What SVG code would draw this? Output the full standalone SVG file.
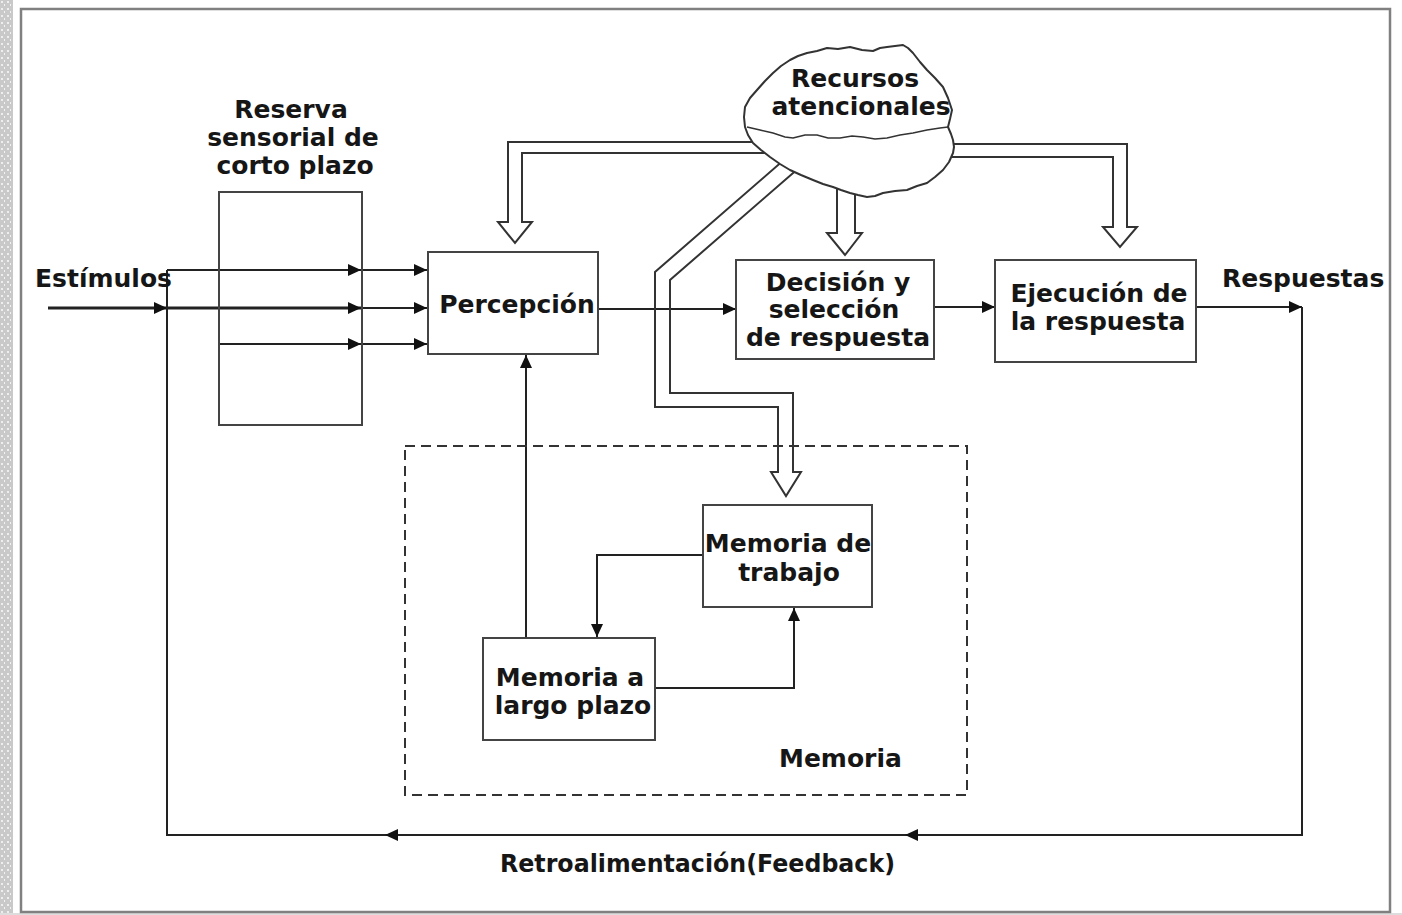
<svg xmlns="http://www.w3.org/2000/svg" width="1402" height="915" viewBox="0 0 1402 915">
<style>
.t{font-family:"DejaVu Sans","Liberation Sans",sans-serif;font-weight:bold;font-size:25px;fill:#161616}
.m{text-anchor:middle}
.box{fill:#fff;stroke:#444;stroke-width:2}
.ln{fill:none;stroke:#222;stroke-width:2}
.hol{fill:#fff;stroke:#333;stroke-width:2;stroke-linejoin:miter}
</style>
<defs>
<marker id="ah" markerUnits="userSpaceOnUse" markerWidth="14" markerHeight="12" refX="13" refY="6" orient="auto">
<path d="M0,0 L13,6 L0,12 z" fill="#111"/>
</marker>
<pattern id="noise" width="6" height="7" patternUnits="userSpaceOnUse">
<rect width="6" height="7" fill="#c9c9c9"/>
<rect x="1" y="1" width="2" height="2" fill="#eee"/>
<rect x="4" y="4" width="1" height="2" fill="#f2f2f2"/>
</pattern>
</defs>
<rect width="1402" height="915" fill="#fff"/>
<rect x="0" y="0" width="13" height="915" fill="url(#noise)"/>
<rect x="0" y="913" width="1402" height="2" fill="#ddd"/>
<rect x="21" y="9" width="1369" height="903" fill="none" stroke="#808080" stroke-width="2.5"/>

<g id="connectors">
<line x1="48" y1="308" x2="167" y2="308" stroke="#222" stroke-width="3" marker-end="url(#ah)"/>
<line x1="167" y1="308" x2="361" y2="308" stroke="#222" stroke-width="3" marker-end="url(#ah)"/>
<line x1="361" y1="308" x2="427" y2="308" class="ln" marker-end="url(#ah)"/>
<line x1="167" y1="270" x2="361" y2="270" class="ln" marker-end="url(#ah)"/>
<line x1="361" y1="270" x2="427" y2="270" class="ln" marker-end="url(#ah)"/>
<line x1="219" y1="344" x2="361" y2="344" class="ln" marker-end="url(#ah)"/>
<line x1="361" y1="344" x2="427" y2="344" class="ln" marker-end="url(#ah)"/>
<line x1="598" y1="309" x2="736" y2="309" class="ln" marker-end="url(#ah)"/>
<line x1="934" y1="307" x2="995" y2="307" class="ln" marker-end="url(#ah)"/>
<line x1="1196" y1="307" x2="1302" y2="307" class="ln" marker-end="url(#ah)"/>
<path d="M1302,307 L1302,835 L905,835" class="ln" marker-end="url(#ah)"/>
<line x1="905" y1="835" x2="385" y2="835" class="ln" marker-end="url(#ah)"/>
<path d="M385,835 L167,835 L167,270" class="ln"/>
<line x1="526" y1="638" x2="526" y2="355" class="ln" marker-end="url(#ah)"/>
<path d="M703,555 L597,555 L597,637" class="ln" marker-end="url(#ah)"/>
<path d="M655,688 L794,688 L794,608" class="ln" marker-end="url(#ah)"/>
<path d="M790,142 L508,142 L508,222 L498,222 L515,243 L532,222 L522,222 L522,153 L790,153" class="hol"/>
<path d="M910,144 L1127,144 L1127,227 L1137,227 L1120,247 L1103,227 L1113,227 L1113,157 L910,157" class="hol"/>
<path d="M837,185 L837,233 L827,233 L845,255 L862,233 L855,233 L855,185" class="hol"/>
<path d="M785,159 L655,272 L655,407 L778,407 L778,472 L771,472 L786,496 L801,472 L793,472 L793,393 L670,393 L670,280 L800,167" fill="none" stroke="#333" stroke-width="2"/>
</g>

<g id="memoria">
<rect x="405" y="446" width="562" height="349" fill="none" stroke="#333" stroke-width="2" stroke-dasharray="10 6"/>
<text class="t" x="779" y="767">Memoria</text>
</g>

<g id="reserva">
<rect x="219" y="192" width="143" height="233" fill="none" stroke="#444" stroke-width="2"/>
<text class="t m" x="291" y="118">Reserva</text>
<text class="t m" x="293" y="146">sensorial de</text>
<text class="t m" x="295" y="174">corto plazo</text>
</g>

<g id="percepcion">
<rect class="box" x="428" y="252" width="170" height="102"/>
<text class="t m" x="517" y="313">Percepción</text>
</g>

<g id="decision">
<rect class="box" x="736" y="260" width="198" height="99"/>
<text class="t m" x="838" y="291">Decisión y</text>
<text class="t m" x="834" y="318">selección</text>
<text class="t m" x="838" y="346">de respuesta</text>
</g>

<g id="ejecucion">
<rect class="box" x="995" y="260" width="201" height="102"/>
<text class="t m" x="1099" y="302">Ejecución de</text>
<text class="t m" x="1098" y="330">la respuesta</text>
</g>

<g id="trabajo">
<rect class="box" x="703" y="505" width="169" height="102"/>
<text class="t m" x="788" y="552">Memoria de</text>
<text class="t m" x="789" y="581">trabajo</text>
</g>

<g id="largo">
<rect class="box" x="483" y="638" width="172" height="102"/>
<text class="t m" x="570" y="686">Memoria a</text>
<text class="t m" x="573" y="714">largo plazo</text>
</g>

<g id="recursos">
<path d="M790,60 L798,56 807,53 817,51 827,48 838,49 850,47 862,50 873,51 880,48 887,47 895,46 903,45 908,48 913,53 920,62 927,70 935,78 943,87 948,98 952,110 950,119 948,127 951,134 953,140 954,147 953,153 949,162 943,170 935,177 927,183 917,186 907,190 895,191 883,193 875,196 867,197 858,195 850,193 841,190 833,187 823,184 813,180 801,175 790,170 780,164 770,157 761,150 753,143 748,135 745,127 744,117 745,107 750,98 757,90 765,81 773,73 781,66 Z" fill="#fff" stroke="#333" stroke-width="2" stroke-linejoin="round"/>
<path d="M747,127 L760,130 773,133 785,137 793,138 805,135 817,135 828,138 840,138 852,136 863,137 875,139 887,138 900,135 913,133 927,130 940,128 948,127" fill="none" stroke="#333" stroke-width="1.5"/>
<text class="t m" x="855" y="87">Recursos</text>
<text class="t m" x="861" y="115">atencionales</text>
</g>

<g id="labels">
<text class="t" x="35" y="287">Estímulos</text>
<text class="t" x="1222" y="287">Respuestas</text>
<text class="t" x="500" y="872" textLength="395" lengthAdjust="spacingAndGlyphs">Retroalimentación(Feedback)</text>
</g>
</svg>
